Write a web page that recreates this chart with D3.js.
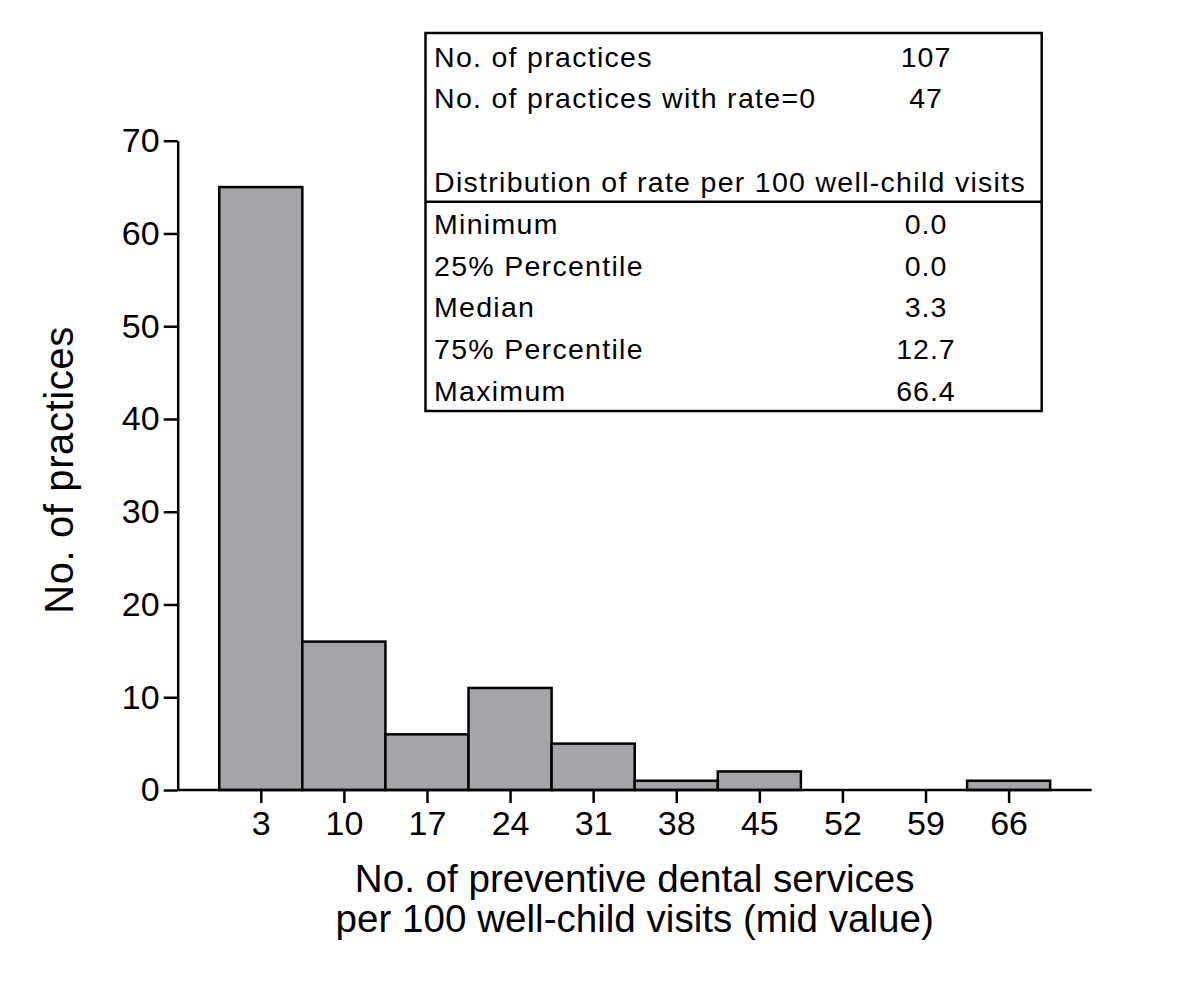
<!DOCTYPE html>
<html>
<head>
<meta charset="utf-8">
<script src="https://cdn.jsdelivr.net/npm/d3@7"></script>
<style>
  html, body { margin: 0; padding: 0; background: #fff; }
  svg { display: block; font-family: Arial, "Liberation Sans", sans-serif; }
</style>
</head>
<body>
<svg id="chart" width="1200" height="984"></svg>
<script>
// ---- Data ----
const midValues = [3, 10, 17, 24, 31, 38, 45, 52, 59, 66];
const counts    = [65, 16, 6, 11, 5, 1, 2, 0, 0, 1];
const binWidth  = 7;
const yTicks    = [0, 10, 20, 30, 40, 50, 60, 70];

const statsTop    = ["No. of practices", "No. of practices with rate=0"];
const statsTopVal = ["107", "47"];
const statsHeader = "Distribution of rate per 100 well-child visits";
const statsLabels = ["Minimum", "25% Percentile", "Median", "75% Percentile", "Maximum"];
const statsValues = ["0.0", "0.0", "3.3", "12.7", "66.4"];

const xTitle = ["No. of preventive dental services", "per 100 well-child visits (mid value)"];
const yTitle = "No. of practices";

// ---- Layout ----
const svg = d3.select("#chart");
const plotL = 177.7, plotR = 1091.7, plotT = 140.7, plotB = 790;

const x = d3.scaleLinear().domain([-4, 73]).range([plotL, plotR]);
const y = d3.scaleLinear().domain([0, 70]).range([plotB, plotT]);

// Bars
svg.append("g").selectAll("rect")
  .data(midValues.map((m, i) => ({ m, c: counts[i] })).filter(d => d.c > 0))
  .join("rect")
  .attr("x", d => x(d.m - binWidth / 2))
  .attr("width", d => x(d.m + binWidth / 2) - x(d.m - binWidth / 2))
  .attr("y", d => y(d.c))
  .attr("height", d => y(0) - y(d.c))
  .attr("fill", "#a5a4a9")
  .attr("stroke", "#000")
  .attr("stroke-width", 2.5);

// X axis
const xAxis = svg.append("g")
  .attr("transform", `translate(0,${plotB})`)
  .call(d3.axisBottom(x).tickValues(midValues).tickSize(13).tickPadding(8).tickSizeOuter(0));
xAxis.select(".domain").attr("stroke", "#000").attr("stroke-width", 2.5)
  .attr("d", `M${plotL},0H${plotR}`);
xAxis.selectAll(".tick line").attr("stroke", "#000").attr("stroke-width", 2.5);
xAxis.selectAll(".tick text").attr("font-size", 34).attr("fill", "#000")
  .attr("font-family", "Arial, 'Liberation Sans', sans-serif");

// Y axis
const yAxis = svg.append("g")
  .attr("transform", `translate(${plotL},0)`)
  .call(d3.axisLeft(y).tickValues(yTicks).tickSize(14).tickPadding(4).tickSizeOuter(0));
yAxis.select(".domain").attr("stroke", "#000").attr("stroke-width", 2.5);
yAxis.selectAll(".tick line").attr("stroke", "#000").attr("stroke-width", 2.5);
yAxis.selectAll(".tick text").attr("font-size", 34).attr("fill", "#000")
  .attr("font-family", "Arial, 'Liberation Sans', sans-serif");

// Axis titles
svg.append("g").selectAll("text").data(xTitle).join("text")
  .attr("x", (plotL + plotR) / 2)
  .attr("y", (d, i) => 892 + i * 40)
  .attr("text-anchor", "middle")
  .attr("font-size", 38.6)
  .attr("fill", "#000")
  .text(d => d);

svg.append("text")
  .attr("transform", "translate(73,470) rotate(-90)")
  .attr("text-anchor", "middle")
  .attr("font-size", 40)
  .attr("letter-spacing", 0.6)
  .attr("fill", "#000")
  .text(yTitle);

// Stats box
const box = svg.append("g");
const bx0 = 425.5, bx1 = 1041.7, by0 = 33, by1 = 411, divY = 201.7;
box.append("rect")
  .attr("x", bx0).attr("y", by0)
  .attr("width", bx1 - bx0).attr("height", by1 - by0)
  .attr("fill", "#fff").attr("stroke", "#000").attr("stroke-width", 2.5);
box.append("line")
  .attr("x1", bx0).attr("x2", bx1).attr("y1", divY).attr("y2", divY)
  .attr("stroke", "#000").attr("stroke-width", 2.5);

const rowH = 41.8;
const textX = 434, valX = 926;
const rows = [
  { l: statsTop[0], v: statsTopVal[0], b: 66.5 },
  { l: statsTop[1], v: statsTopVal[1], b: 66.5 + rowH },
  { l: statsHeader, v: "", b: 66.5 + 3 * rowH },
  ...statsLabels.map((l, i) => ({ l, v: statsValues[i], b: 66.5 + (4 + i) * rowH }))
];
const boxText = box.append("g")
  .attr("font-family", "Arial, 'Liberation Sans', sans-serif")
  .attr("font-size", 28.5)
  .attr("fill", "#000");
boxText.selectAll("text.lab").data(rows).join("text")
  .attr("class", "lab")
  .attr("x", textX).attr("y", d => d.b)
  .attr("letter-spacing", 1.3)
  .text(d => d.l);
boxText.selectAll("text.val").data(rows.filter(d => d.v)).join("text")
  .attr("class", "val")
  .attr("x", valX).attr("y", d => d.b)
  .attr("text-anchor", "middle")
  .attr("letter-spacing", 1)
  .text(d => d.v);
</script>
</body>
</html>
